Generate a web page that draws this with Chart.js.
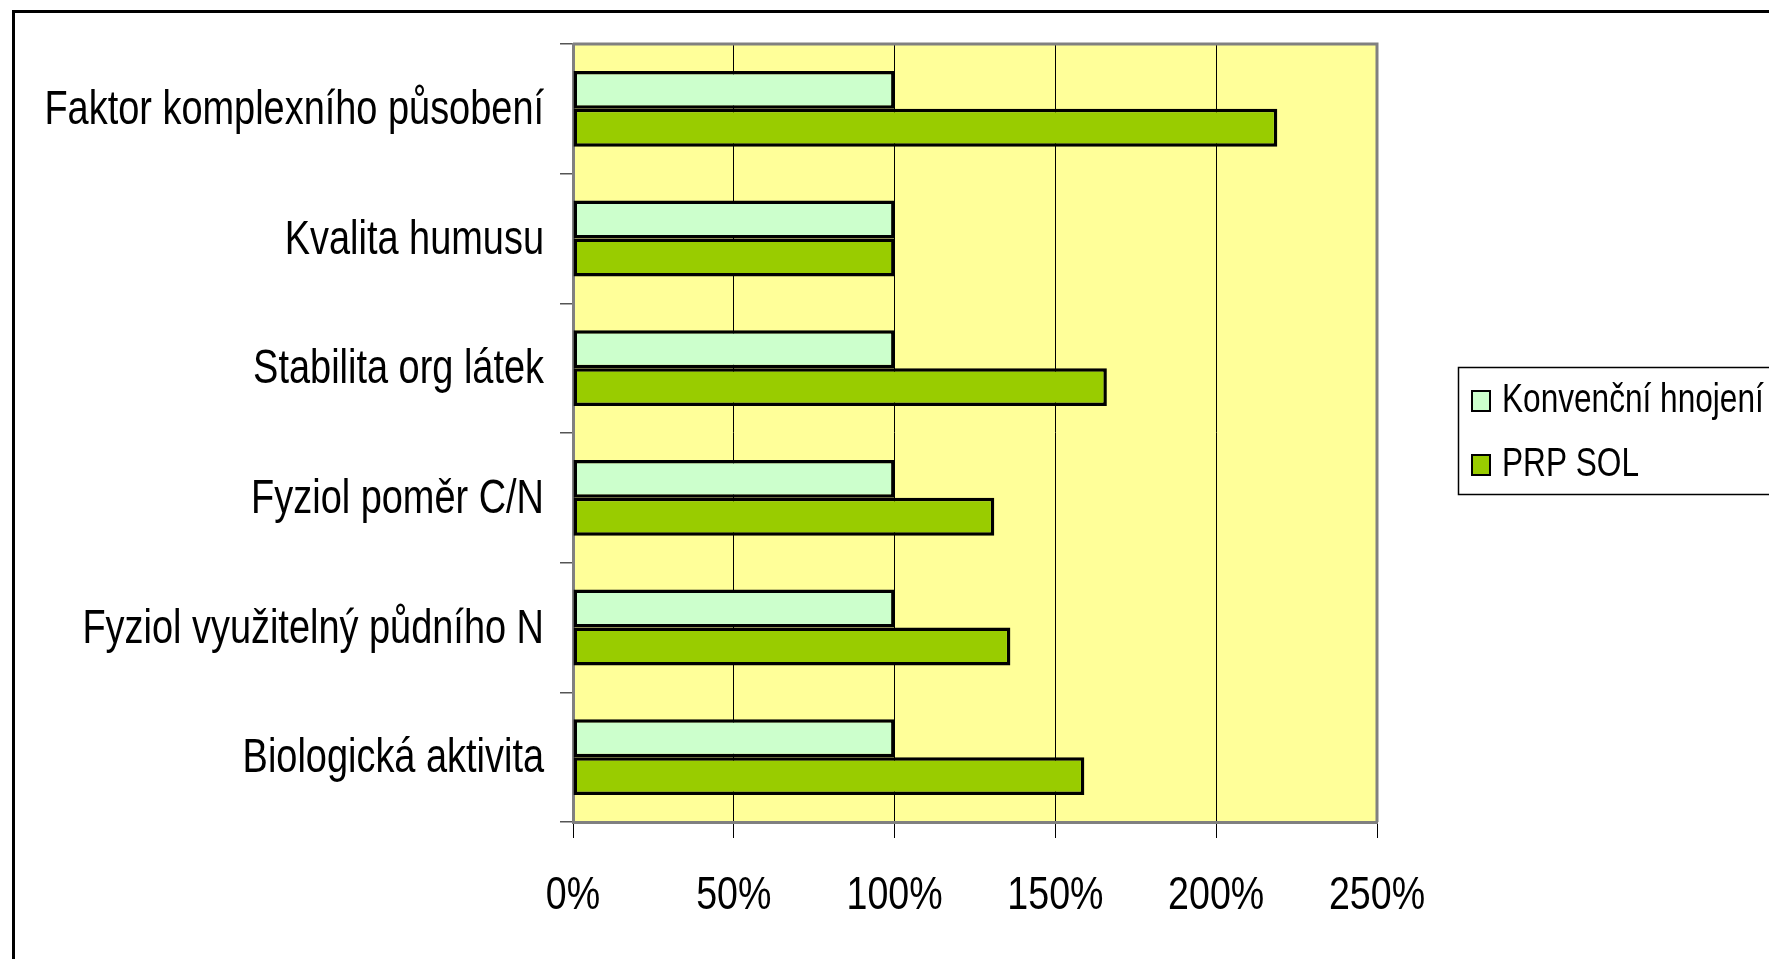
<!DOCTYPE html>
<html>
<head>
<meta charset="utf-8">
<script src="https://cdn.jsdelivr.net/npm/chart.js@4.4.1/dist/chart.umd.min.js"></script>
<style>
  html, body { margin: 0; padding: 0; background: #ffffff; }
  canvas { display: block; }
</style>
</head>
<body>
<canvas id="c" width="1769" height="959"></canvas>
<script>
// Indicators compared, top to bottom
const categories = [
  'Faktor komplexního působení',
  'Kvalita humusu',
  'Stabilita org látek',
  'Fyziol poměr C/N',
  'Fyziol využitelný půdního N',
  'Biologická aktivita'
];
// Values in percent of conventional fertilisation
const konvencni = [100, 100, 100, 100, 100, 100];
const prpSol = [219, 100, 166, 131, 136, 159];
const seriesNames = ['Konvenční hnojení', 'PRP SOL'];
const xTicks = [0, 50, 100, 150, 200, 250];

const FONT = '"Liberation Sans", Arial, sans-serif';

// Draws text squeezed horizontally for a narrow Arial look
function narrowText(ctx, text, x, y, size, squeeze, align) {
  ctx.save();
  ctx.font = size + 'px ' + FONT;
  ctx.textAlign = align;
  ctx.textBaseline = 'middle';
  ctx.fillStyle = '#000000';
  ctx.translate(x, y);
  ctx.scale(squeeze, 1);
  ctx.fillText(text, 0, 0);
  ctx.restore();
}

// Yellow plot background, top/right border and outer frame
const framePlugin = {
  id: 'frame',
  beforeDraw(chart) {
    const { ctx, chartArea: a } = chart;
    ctx.save();
    ctx.fillStyle = '#ffffff';
    ctx.fillRect(0, 0, chart.width, chart.height);
    ctx.fillStyle = '#FFFF99';
    ctx.fillRect(a.left, a.top, a.right - a.left, a.bottom - a.top);
    ctx.strokeStyle = '#000000';
    ctx.lineWidth = 3;
    ctx.strokeRect(13.5, 11.5, 3000, 3000);
    ctx.restore();
  },
  afterDraw(chart) {
    const { ctx, chartArea: a } = chart;
    ctx.save();
    ctx.strokeStyle = '#808080';
    ctx.lineWidth = 3;
    ctx.beginPath();
    ctx.moveTo(a.left, a.top);
    ctx.lineTo(a.right, a.top);
    ctx.lineTo(a.right, a.bottom);
    ctx.stroke();
    ctx.restore();
  }
};

// Axis labels placed at the scales' own tick positions
const axisLabels = {
  id: 'axisLabels',
  afterDraw(chart) {
    const { ctx } = chart;
    const xs = chart.scales.x, ys = chart.scales.y;
    xs.ticks.forEach((t, i) => {
      narrowText(ctx, t.value + '%', xs.getPixelForTick(i), xs.top + 74, 47, 0.80, 'center');
    });
    ys.ticks.forEach((t, i) => {
      narrowText(ctx, chart.data.labels[t.value], ys.right - 29, ys.getPixelForTick(i) + 2, 48, 0.79, 'right');
    });
  }
};

// Legend box at the right edge
const legendBox = {
  id: 'legendBox',
  afterDraw(chart) {
    const { ctx } = chart;
    const x = 1458.5, y = 367.5;
    ctx.save();
    ctx.fillStyle = '#ffffff';
    ctx.fillRect(x, y, 400, 127);
    ctx.strokeStyle = '#000000';
    ctx.lineWidth = 1.5;
    ctx.strokeRect(x, y, 400, 127);
    chart.data.datasets.forEach((ds, i) => {
      const cy = 401 + i * 64;
      ctx.fillStyle = ds.backgroundColor;
      ctx.fillRect(1472, cy - 10, 18, 20);
      ctx.strokeStyle = '#000000';
      ctx.lineWidth = 2;
      ctx.strokeRect(1472, cy - 10, 18, 20);
      narrowText(ctx, ds.label, 1502, cy, 40, 0.79, 'left');
    });
    ctx.restore();
  }
};

new Chart(document.getElementById('c'), {
  type: 'bar',
  data: {
    labels: categories,
    datasets: [
      {
        label: seriesNames[0],
        data: konvencni,
        backgroundColor: '#CCFFCC',
        borderColor: '#000000',
        borderWidth: 3.5,
        borderSkipped: false
      },
      {
        label: seriesNames[1],
        data: prpSol,
        backgroundColor: '#99CC00',
        borderColor: '#000000',
        borderWidth: 3.5,
        borderSkipped: false
      }
    ]
  },
  options: {
    indexAxis: 'y',
    responsive: false,
    animation: false,
    devicePixelRatio: 1,
    categoryPercentage: 0.585,
    barPercentage: 1.0,
    layout: { padding: { left: 0, right: 392, top: 44, bottom: 0 } },
    plugins: {
      legend: { display: false },
      tooltip: { enabled: false }
    },
    scales: {
      x: {
        type: 'linear',
        min: xTicks[0],
        max: xTicks[xTicks.length - 1],
        afterBuildTicks(scale) {
          scale.ticks = xTicks.map(v => ({ value: v }));
        },
        afterFit(scale) { scale.height = 137; },
        border: { display: true, color: '#808080', width: 3 },
        grid: {
          color: ctx => (ctx.index === 0 || ctx.index === xTicks.length - 1) ? 'rgba(0,0,0,0)' : '#000000',
          tickColor: '#000000',
          lineWidth: 1,
          tickLength: 16,
          drawOnChartArea: true
        },
        ticks: { display: false }
      },
      y: {
        type: 'category',
        offset: true,
        afterFit(scale) { scale.width = 573; },
        border: { display: true, color: '#808080', width: 3 },
        grid: {
          offset: true,
          drawOnChartArea: false,
          tickColor: '#555555',
          tickLength: 13,
          lineWidth: 1.5
        },
        ticks: { display: false }
      }
    }
  },
  plugins: [framePlugin, axisLabels, legendBox]
});
</script>
</body>
</html>
